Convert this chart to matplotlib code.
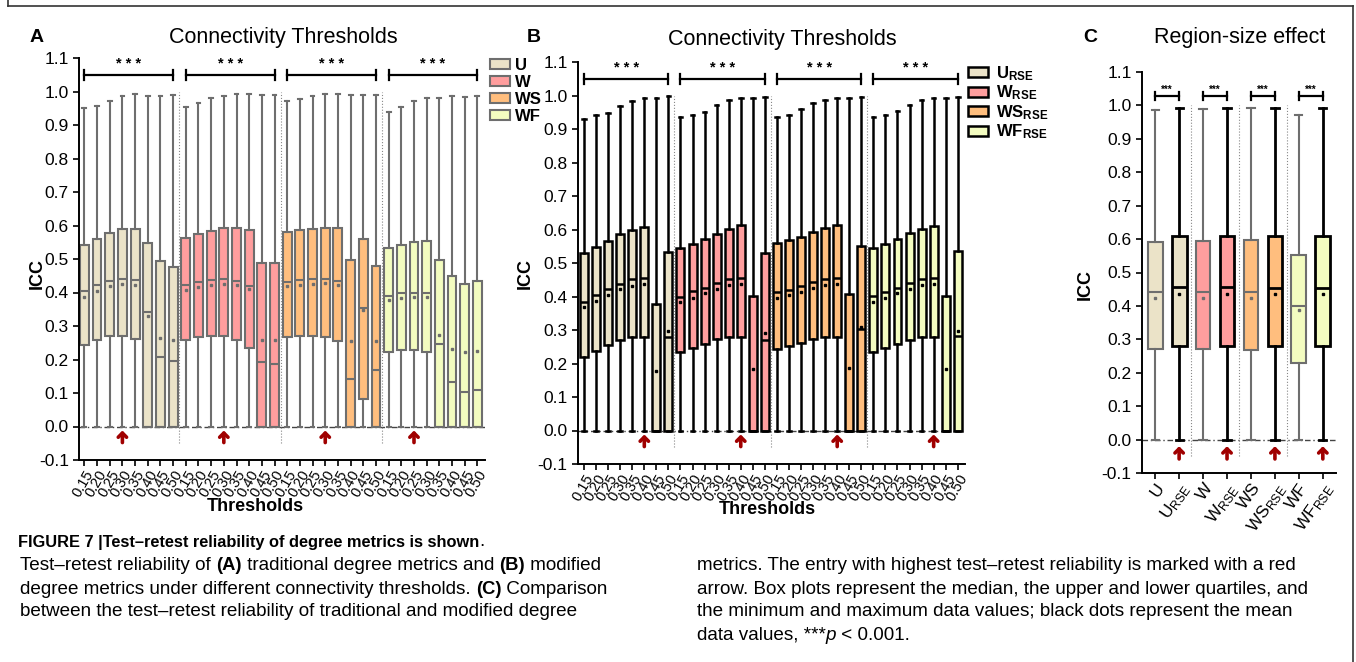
import numpy as np
import matplotlib
matplotlib.use('Agg')
import matplotlib.pyplot as plt
from matplotlib.patches import Patch
from matplotlib.lines import Line2D

plt.rcParams['font.family'] = ['Liberation Sans', 'DejaVu Sans']
plt.rcParams['axes.unicode_minus'] = False
plt.rcParams['mathtext.fontset'] = 'custom'
plt.rcParams['mathtext.rm'] = 'Liberation Sans'
plt.rcParams['mathtext.it'] = 'Liberation Sans:italic'
plt.rcParams['mathtext.bf'] = 'Liberation Sans:bold'

# ---- data ----
thresholds = ['0.15', '0.20', '0.25', '0.30', '0.35', '0.40', '0.45', '0.50']
metrics_a = ['U', 'W', 'WS', 'WF']
metrics_b = [r'$\mathbf{U}_{\mathbf{RSE}}$', r'$\mathbf{W}_{\mathbf{RSE}}$',
             r'$\mathbf{WS}_{\mathbf{RSE}}$', r'$\mathbf{WF}_{\mathbf{RSE}}$']

# panel A: traditional degree metrics, rows U, W, WS, WF
a_max = [[0.952, 0.957, 0.972, 0.986, 0.993, 0.986, 0.986, 0.990],
         [0.953, 0.965, 0.980, 0.988, 0.993, 0.993, 0.989, 0.989],
         [0.973, 0.979, 0.986, 0.993, 0.993, 0.991, 0.990, 0.990],
         [0.940, 0.955, 0.972, 0.982, 0.982, 0.987, 0.983, 0.987]]
a_q3 = [[0.543, 0.561, 0.578, 0.589, 0.590, 0.549, 0.493, 0.476],
        [0.563, 0.575, 0.585, 0.592, 0.592, 0.586, 0.488, 0.488],
        [0.580, 0.586, 0.591, 0.594, 0.592, 0.498, 0.559, 0.480],
        [0.534, 0.542, 0.550, 0.554, 0.496, 0.448, 0.425, 0.433]]
a_med = [[0.405, 0.421, 0.435, 0.439, 0.436, 0.341, 0.207, 0.197],
         [0.422, 0.432, 0.436, 0.441, 0.435, 0.419, 0.194, 0.186],
         [0.432, 0.436, 0.440, 0.440, 0.434, 0.141, 0.353, 0.169],
         [0.389, 0.398, 0.400, 0.399, 0.247, 0.134, 0.102, 0.109]]
a_q1 = [[0.243, 0.258, 0.270, 0.271, 0.261, 0.0, 0.0, 0.0],
        [0.258, 0.267, 0.270, 0.271, 0.259, 0.235, 0.0, 0.0],
        [0.267, 0.269, 0.270, 0.267, 0.255, 0.0, 0.082, 0.0],
        [0.221, 0.227, 0.229, 0.223, 0.0, 0.0, 0.0, 0.0]]
a_mean = [[0.388, 0.405, 0.420, 0.424, 0.422, 0.330, 0.264, 0.257],
          [0.406, 0.416, 0.421, 0.425, 0.422, 0.410, 0.259, 0.259],
          [0.418, 0.422, 0.425, 0.427, 0.421, 0.254, 0.348, 0.256],
          [0.377, 0.384, 0.388, 0.387, 0.273, 0.232, 0.222, 0.226]]
a_min = [[0.0] * 8 for _ in range(4)]
a_best = [3, 3, 3, 2]

# panel B: modified (RSE) degree metrics
b_max = [[0.931, 0.942, 0.947, 0.970, 0.984, 0.992, 0.992, 0.998],
         [0.937, 0.942, 0.952, 0.973, 0.986, 0.992, 0.992, 0.995],
         [0.935, 0.943, 0.961, 0.977, 0.988, 0.993, 0.993, 0.995],
         [0.935, 0.941, 0.953, 0.973, 0.986, 0.992, 0.992, 0.996]]
b_q3 = [[0.530, 0.548, 0.567, 0.586, 0.600, 0.607, 0.379, 0.534],
        [0.545, 0.558, 0.572, 0.587, 0.601, 0.612, 0.401, 0.530],
        [0.560, 0.568, 0.577, 0.592, 0.604, 0.612, 0.408, 0.550],
        [0.546, 0.558, 0.573, 0.589, 0.602, 0.611, 0.402, 0.535]]
b_med = [[0.384, 0.404, 0.421, 0.438, 0.452, 0.455, 0.0, 0.279],
         [0.399, 0.415, 0.426, 0.440, 0.452, 0.455, 0.0, 0.270],
         [0.413, 0.419, 0.431, 0.444, 0.452, 0.455, 0.0, 0.302],
         [0.401, 0.413, 0.426, 0.440, 0.452, 0.455, 0.0, 0.281]]
b_q1 = [[0.220, 0.238, 0.255, 0.270, 0.280, 0.280, 0.0, 0.0],
        [0.233, 0.245, 0.259, 0.272, 0.280, 0.280, 0.0, 0.0],
        [0.244, 0.252, 0.262, 0.272, 0.280, 0.280, 0.0, 0.0],
        [0.233, 0.245, 0.258, 0.271, 0.280, 0.280, 0.0, 0.0]]
b_mean = [[0.369, 0.387, 0.405, 0.421, 0.432, 0.437, 0.177, 0.296],
          [0.384, 0.395, 0.409, 0.423, 0.433, 0.437, 0.184, 0.291],
          [0.395, 0.404, 0.414, 0.426, 0.434, 0.437, 0.187, 0.308],
          [0.384, 0.396, 0.410, 0.423, 0.433, 0.437, 0.184, 0.296]]
b_min = [[0.0] * 8 for _ in range(4)]
b_best = [5, 5, 5, 5]

# panel C: region-size effect
c_labels = ['U', r'U$_{\mathregular{RSE}}$', 'W', r'W$_{\mathregular{RSE}}$',
            'WS', r'WS$_{\mathregular{RSE}}$', 'WF', r'WF$_{\mathregular{RSE}}$']
c_max = [0.987, 0.992, 0.989, 0.992, 0.992, 0.992, 0.972, 0.992]
c_q3 = [0.591, 0.609, 0.595, 0.609, 0.597, 0.609, 0.551, 0.609]
c_med = [0.443, 0.457, 0.443, 0.456, 0.442, 0.455, 0.401, 0.455]
c_q1 = [0.271, 0.281, 0.271, 0.280, 0.269, 0.279, 0.229, 0.281]
c_mean = [0.425, 0.437, 0.425, 0.437, 0.425, 0.437, 0.388, 0.437]
c_min = [0.0] * 8
c_best = [1, 3, 5, 7]

fills = ['#ebe3c8', '#ff9e9e', '#ffbe7e', '#f3fcc0']
gray = '#6e6e6e'
arrow_red = '#a00000'

W, H = 1356, 662
fig = plt.figure(figsize=(W / 100, H / 100), dpi=100)


def stats(mx, q3, med, q1, mean, lo):
    return [dict(whislo=l, q1=a, med=m, q3=b, whishi=h, mean=mu)
            for h, b, m, a, mu, l in zip(mx, q3, med, q1, mean, lo)]


def draw_boxes(ax, st, pos, fc, ec, lw, width, capw):
    ax.bxp(st, positions=pos, widths=width, capwidths=capw, patch_artist=True,
           showmeans=True, showfliers=False, manage_ticks=False,
           boxprops=dict(facecolor=fc, edgecolor=ec, linewidth=lw),
           whiskerprops=dict(color=ec, linewidth=lw),
           capprops=dict(color=ec, linewidth=lw),
           medianprops=dict(color=ec, linewidth=lw),
           meanprops=dict(marker='s', markersize=2, markerfacecolor=ec,
                          markeredgecolor=ec))


def style_axes(ax, xlim):
    ax.set_xlim(*xlim)
    ax.set_ylim(-0.1, 1.1)
    yt = np.round(np.arange(-0.1, 1.101, 0.1), 1)
    ax.set_yticks(yt)
    ax.set_yticklabels(['%.1f' % v for v in yt], fontsize=12.5)
    for s in ['top', 'right']:
        ax.spines[s].set_visible(False)
    for s in ['left', 'bottom']:
        ax.spines[s].set_linewidth(1.4)
    ax.tick_params(direction='out', length=4, width=1.2)
    ax.tick_params(axis='x', pad=1.5)
    ax.axhline(0, color='#444444', lw=1.0, ls=(0, (4, 2, 1, 2)), zorder=0.5)


def bracket(ax, x0, x1, y, h, stars, fs, sy):
    ax.plot([x0, x1], [y, y], color='black', lw=1.6)
    ax.plot([x0, x0], [y - h, y + h], color='black', lw=1.6)
    ax.plot([x1, x1], [y - h, y + h], color='black', lw=1.6)
    ax.text((x0 + x1) / 2, sy, stars, ha='center', va='center', fontsize=fs,
            fontweight='bold')


def up_arrow(ax, x, y0, y1):
    ax.annotate('', xy=(x, y1), xytext=(x, y0),
                arrowprops=dict(arrowstyle='->,head_width=0.3,head_length=0.3',
                                color=arrow_red, lw=2.6, shrinkA=0, shrinkB=0))


def threshold_panel(ax, mx, q3, med, q1, mean, lo, best, ec, lw, width, xlim):
    for g in range(4):
        pos = g * 8 + np.arange(8)
        draw_boxes(ax, stats(mx[g], q3[g], med[g], q1[g], mean[g], lo[g]),
                   pos, fills[g], ec, lw, width, 0.3)
        bracket(ax, g * 8, g * 8 + 7, 1.05, 0.015, '* * *', 10.5, 1.083)
        up_arrow(ax, g * 8 + best[g], -0.048, -0.012)
    ax.vlines([7.5, 15.5, 23.5], -0.05, 1.0, colors='#888888', lw=0.8,
              linestyles=':')
    style_axes(ax, xlim)
    ax.set_xticks(range(32))
    ax.set_xticklabels(thresholds * 4, rotation=60, ha='right',
                       rotation_mode='anchor', fontsize=10.5)


# ---- panel A ----
axA = fig.add_axes([79.3 / W, 1 - 460 / H, 405.7 / W, 402 / H])
threshold_panel(axA, a_max, a_q3, a_med, a_q1, a_mean, a_min, a_best,
                gray, 1.5, 0.7, (-0.4, 31.6))
axA.text(-0.104, 0.465, 'ICC', rotation=90, transform=axA.transAxes,
         ha='center', va='center', fontsize=13, fontweight='bold')
axA.text(0.435, -0.115, 'Thresholds', transform=axA.transAxes, ha='center',
         va='center', fontsize=13, fontweight='bold')
axA.legend([Patch(facecolor=f, edgecolor=gray, lw=1.5) for f in fills],
           metrics_a, loc='upper left', bbox_to_anchor=(1.012, 1.0),
           frameon=False, borderpad=0, borderaxespad=0, handlelength=1.2,
           handleheight=0.55, handletextpad=0.3, labelspacing=0.12,
           prop=dict(weight='bold', size=12))

# ---- panel B ----
axB = fig.add_axes([578 / W, 1 - 464 / H, 387 / W, 402 / H])
threshold_panel(axB, b_max, b_q3, b_med, b_q1, b_mean, b_min, b_best,
                'black', 1.8, 0.66, (-0.5, 31.6))
axB.text(-0.137, 0.475, 'ICC', rotation=90, transform=axB.transAxes,
         ha='center', va='center', fontsize=13, fontweight='bold')
axB.text(0.49, -0.113, 'Thresholds', transform=axB.transAxes, ha='center',
         va='center', fontsize=13, fontweight='bold')
axB.legend([Patch(facecolor=f, edgecolor='black', lw=1.8) for f in fills],
           metrics_b, loc='upper left', bbox_to_anchor=(1.008, 0.995),
           frameon=False, borderpad=0, borderaxespad=0, handlelength=1.2,
           handleheight=0.55, handletextpad=0.5, labelspacing=0.05,
           prop=dict(weight='bold', size=12))

# ---- panel C ----
axC = fig.add_axes([1142 / W, 1 - 473 / H, 194 / W, 401 / H])
c_stats = stats(c_max, c_q3, c_med, c_q1, c_mean, c_min)
for g in range(4):
    draw_boxes(axC, [c_stats[2 * g]], [2 * g], fills[g], gray, 1.5, 0.62, 0.3)
    draw_boxes(axC, [c_stats[2 * g + 1]], [2 * g + 1], fills[g], 'black', 2.0,
               0.62, 0.3)
    bracket(axC, 2 * g, 2 * g + 1, 1.028, 0.012, '***', 7, 1.047)
    up_arrow(axC, c_best[g], -0.058, -0.02)
axC.vlines([1.5, 3.5, 5.5], -0.05, 1.0, colors='#888888', lw=0.8,
           linestyles=':')
style_axes(axC, (-0.55, 7.55))
axC.set_xticks(range(8))
axC.set_xticklabels(c_labels, rotation=55, ha='right', rotation_mode='anchor',
                    fontsize=12.5)
axC.text(-0.294, 0.47, 'ICC', rotation=90, transform=axC.transAxes,
         ha='center', va='center', fontsize=13, fontweight='bold')

# ---- titles and panel letters ----
fig.text(283 / W, 1 - 38 / H, 'Connectivity Thresholds', ha='center',
         va='center', fontsize=15.5)
fig.text(782 / W, 1 - 39 / H, 'Connectivity Thresholds', ha='center',
         va='center', fontsize=15.5)
fig.text(1240 / W, 1 - 37 / H, 'Region-size effect', ha='center',
         va='center', fontsize=15.5)
for lab, x in [('A', 37), ('B', 534), ('C', 1090)]:
    fig.text(x / W, 1 - 37 / H, lab, ha='center', va='center', fontsize=14,
             fontweight='bold')

# ---- frame ----
for xs, ys in [([8, 8], [0, 6]), ([8, 1353], [6, 6]), ([1353, 1353], [6, H])]:
    fig.add_artist(Line2D([x / W for x in xs], [1 - y / H for y in ys],
                          color='#333333', lw=1.2))

# ---- caption ----
rend = fig.canvas.get_renderer()


def caption_line(x_px, y_px, runs):
    x = x_px / W
    for s, kw in runs:
        t = fig.text(x, 1 - y_px / H, s, va='center', ha='left', **kw)
        x += t.get_window_extent(renderer=rend).width / fig.bbox.width


B_ = dict(fontweight='bold', fontsize=13.2)
R_ = dict(fontsize=13.6)
T_ = dict(fontweight='bold', fontsize=11.8)
caption_line(18, 542, [('FIGURE 7 |Test\u2013retest reliability of degree metrics is shown', T_),
                       ('.', R_)])
caption_line(20, 566, [('Test\u2013retest reliability of ', R_), ('(A)', B_),
                       (' traditional degree metrics and ', R_), ('(B)', B_),
                       (' modified', R_)])
caption_line(20, 589, [('degree metrics under different connectivity thresholds. ', R_),
                       ('(C)', B_), (' Comparison', R_)])
caption_line(20, 612, [('between the test\u2013retest reliability of traditional and modified degree', R_)])
caption_line(697, 566, [('metrics. The entry with highest test\u2013retest reliability is marked with a red', R_)])
caption_line(697, 589, [('arrow. Box plots represent the median, the upper and lower quartiles, and', R_)])
caption_line(697, 612, [('the minimum and maximum data values; black dots represent the mean', R_)])
caption_line(697, 635, [('data values, ***', R_), ('p', dict(style='italic', fontsize=13.6)),
                        (' < 0.001.', R_)])

fig.savefig('out.png', dpi=100)
